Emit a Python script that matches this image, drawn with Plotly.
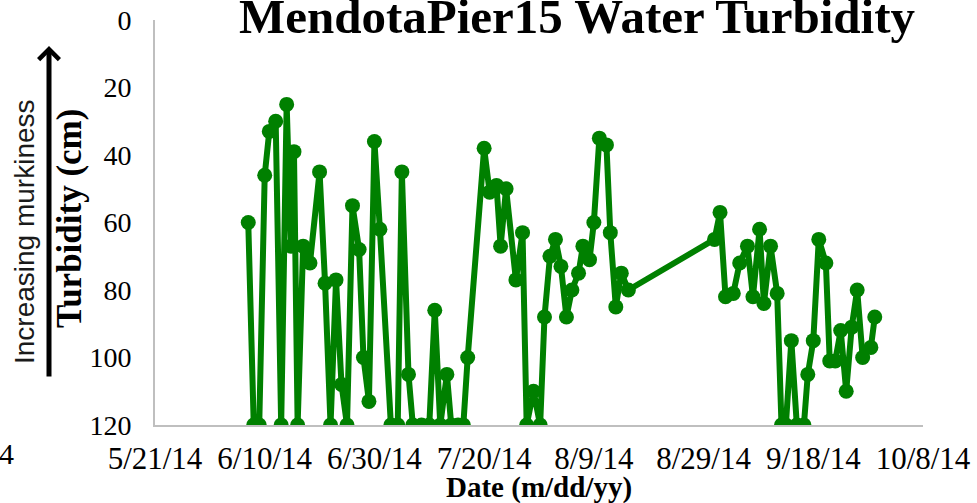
import plotly.graph_objects as go

# Secchi depth readings at Mendota Pier 15 (cm)
sample_dates = [
    "2014-06-07", "2014-06-08", "2014-06-09", "2014-06-10", "2014-06-10 20:00",
    "2014-06-12", "2014-06-13", "2014-06-14", "2014-06-14 19:00", "2014-06-15 08:00",
    "2014-06-16", "2014-06-17", "2014-06-18 06:00", "2014-06-20", "2014-06-21",
    "2014-06-22", "2014-06-23", "2014-06-24", "2014-06-25", "2014-06-26",
    "2014-06-27 05:00", "2014-06-28", "2014-06-29", "2014-06-30", "2014-07-01",
    "2014-07-03", "2014-07-04 06:00", "2014-07-05", "2014-07-06 05:00", "2014-07-07",
    "2014-07-08 14:00", "2014-07-10", "2014-07-11", "2014-07-12", "2014-07-13 05:00",
    "2014-07-14", "2014-07-15 06:00", "2014-07-16 05:00", "2014-07-17", "2014-07-20",
    "2014-07-21", "2014-07-22 06:00", "2014-07-23", "2014-07-24", "2014-07-25 19:00",
    "2014-07-27", "2014-07-27 18:00", "2014-07-29", "2014-07-30 05:00", "2014-07-31",
    "2014-08-01", "2014-08-02", "2014-08-03", "2014-08-04", "2014-08-05",
    "2014-08-06 05:00", "2014-08-07", "2014-08-08 05:00", "2014-08-09", "2014-08-10",
    "2014-08-11 07:00", "2014-08-12", "2014-08-13", "2014-08-14", "2014-08-15 07:00",
    "2014-08-31", "2014-09-01", "2014-09-02", "2014-09-03 10:00", "2014-09-04 14:00",
    "2014-09-06", "2014-09-07", "2014-09-08 05:00", "2014-09-09", "2014-09-10 05:00",
    "2014-09-11 10:00", "2014-09-12 05:00", "2014-09-13", "2014-09-14", "2014-09-15",
    "2014-09-16 07:00", "2014-09-17", "2014-09-18", "2014-09-19", "2014-09-20 07:00",
    "2014-09-21", "2014-09-22", "2014-09-23", "2014-09-24", "2014-09-25",
    "2014-09-26", "2014-09-27", "2014-09-28 12:00", "2014-09-29 05:00",
]
turbidity_cm = [
    60, 120, 120, 46, 33,
    30, 120, 25, 67, 39,
    120, 67, 72, 45, 78,
    120, 77, 108, 120, 55,
    68, 100, 113, 36, 62,
    120, 120, 45, 105, 120,
    120, 120, 86, 120, 105,
    120, 120, 120, 100, 38,
    51, 49, 67, 50, 77,
    63, 120, 110, 120, 88,
    70, 65, 73, 88, 80,
    75, 67, 71, 60, 35,
    37, 63, 85, 75, 80,
    65, 57, 82, 81, 72,
    67, 82, 62, 84, 67,
    81, 120, 120, 95, 120,
    120, 105, 95, 65, 72,
    101, 101, 92, 110, 91,
    80, 100, 97, 88,
]

tick_dates = ["2014-05-21", "2014-06-10", "2014-06-30", "2014-07-20",
              "2014-08-09", "2014-08-29", "2014-09-18", "2014-10-08"]
tick_labels = ["5/21/14", "6/10/14", "6/30/14", "7/20/14",
               "8/9/14", "8/29/14", "9/18/14", "10/8/14"]
y_ticks = [0, 20, 40, 60, 80, 100, 120]

serif = "Liberation Serif, Times New Roman, serif"
green = "#008000"

fig = go.Figure()
fig.add_trace(
    go.Scatter(
        x=sample_dates,
        y=turbidity_cm,
        mode="lines+markers",
        line={"color": green, "width": 6},
        marker={"color": green, "size": 15},
        showlegend=False,
    )
)

W, H = 977, 503
L, R, T, B = 155, 54, 20, 78
plot_w, plot_h = W - L - R, H - T - B


def px(x):
    # figure pixel -> paper fraction (x)
    return (x - L) / plot_w


def py(y):
    # figure pixel -> paper fraction (y)
    return 1 - (y - T) / plot_h


fig.update_layout(
    width=W,
    height=H,
    margin={"l": L, "r": R, "t": T, "b": B, "autoexpand": False},
    plot_bgcolor="white",
    paper_bgcolor="white",
    title={
        "text": "<b>MendotaPier15 Water Turbidity</b>",
        "font": {"family": serif, "size": 49, "color": "black"},
        "x": 577 / W,
        "xanchor": "center",
        "y": 1 - 16 / H,
        "yanchor": "middle",
    },
    xaxis={
        "range": [tick_dates[0], tick_dates[-1]],
        "tickvals": tick_dates,
        "ticktext": tick_labels,
        "showgrid": False,
        "zeroline": False,
        "showline": True,
        "linecolor": "#bfbfbf",
        "linewidth": 2,
        "ticks": "outside",
        "ticklen": 5,
        "tickcolor": "rgba(0,0,0,0)",
        "tickfont": {"family": serif, "size": 31, "color": "black"},
        "automargin": False,
    },
    yaxis={
        "range": [120, 0],
        "tickvals": y_ticks,
        "showgrid": False,
        "zeroline": False,
        "showline": True,
        "linecolor": "#bfbfbf",
        "linewidth": 2,
        "ticks": "outside",
        "ticklen": 16,
        "tickcolor": "rgba(0,0,0,0)",
        "tickfont": {"family": serif, "size": 28, "color": "black"},
        "automargin": False,
    },
)

# axis titles placed as annotations so they sit where the original has them
fig.add_annotation(
    text="<b>Date (m/dd/yy)</b>",
    xref="paper", yref="paper",
    x=px(539), y=py(488),
    xanchor="center", yanchor="middle",
    showarrow=False,
    font={"family": serif, "size": 29, "color": "black"},
)
fig.add_annotation(
    text="<b>Turbidity (cm)</b>",
    xref="paper", yref="paper",
    x=px(69), y=py(219),
    xanchor="center", yanchor="middle",
    textangle=-90,
    showarrow=False,
    font={"family": serif, "size": 35, "color": "black"},
)

# "Increasing murkiness" label with upward arrow
fig.add_annotation(
    text="Increasing murkiness",
    xref="paper", yref="paper",
    x=px(24), y=py(232),
    xanchor="center", yanchor="middle",
    textangle=-90,
    showarrow=False,
    font={"family": "Liberation Sans, Arial, sans-serif", "size": 28, "color": "#1a1a1a"},
)
fig.add_annotation(
    text="",
    xref="paper", yref="paper",
    x=px(49), y=py(46),
    ax=0, ay=332,
    showarrow=True,
    arrowhead=4,
    arrowsize=0.8,
    arrowwidth=5,
    arrowcolor="black",
)
# stray clipped label at the bottom-left edge
fig.add_annotation(
    text="4",
    xref="paper", yref="paper",
    x=px(16), y=py(454),
    xanchor="right", yanchor="middle",
    showarrow=False,
    font={"family": serif, "size": 30, "color": "black"},
)

# page body has a default 8px margin; drop it so the figure fills the window
fig.write_html(
    "out.html",
    config={"displayModeBar": False},
    post_script="document.body.style.margin = '0px';",
)
